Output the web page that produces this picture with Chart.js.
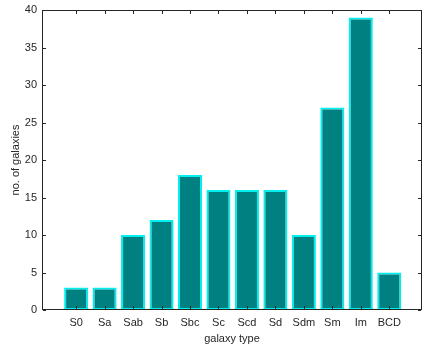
<!DOCTYPE html>
<html><head><meta charset="utf-8">
<script src="https://cdn.jsdelivr.net/npm/chart.js@4"></script>
<style>html,body{margin:0;padding:0;background:#fff}#c{display:block}</style>
</head><body>
<canvas id="c" width="424" height="351"></canvas>
<script>
const categories = ['S0','Sa','Sab','Sb','Sbc','Sc','Scd','Sd','Sdm','Sm','Im','BCD'];
const counts = [3,3,10,12,18,16,16,16,10,27,39,5];
const yTicks = [0,5,10,15,20,25,30,35,40];

const FONT = "'Liberation Sans', Arial, sans-serif";
const INK = '#262626';

const framePlugin = {
  id: 'frame',
  afterDraw(chart) {
    const {ctx, chartArea: a, scales} = chart;
    ctx.save();
    ctx.fillStyle = INK;
    const L = Math.round(a.left), R = Math.round(a.right) - 1;
    const T = Math.round(a.top), B = Math.round(a.bottom) - 1;
    ctx.fillRect(L, T, R - L + 1, 1);
    ctx.fillRect(L, B, R - L + 1, 1);
    ctx.fillRect(L, T, 1, B - T + 1);
    ctx.fillRect(R, T, 1, B - T + 1);
    const tl = 3;
    for (let i = 0; i < categories.length; i++) {
      const x = Math.round(scales.x.getPixelForValue(i));
      ctx.fillRect(x, B - tl, 1, tl);
      ctx.fillRect(x, T + 1, 1, tl);
    }
    for (const v of yTicks) {
      const y = Math.round(scales.y.getPixelForValue(v));
      ctx.fillRect(L + 1, y, tl, 1);
      ctx.fillRect(R - tl, y, tl, 1);
    }
    ctx.restore();
  }
};

new Chart(document.getElementById('c'), {
  type: 'bar',
  data: {
    datasets: [{
      data: counts.map((v, i) => ({x: i, y: v})),
      backgroundColor: '#008080',
      borderColor: '#00f0f0',
      borderWidth: 2,
      borderSkipped: false,
      barPercentage: 0.845,
      categoryPercentage: 1
    }]
  },
  options: {
    responsive: false,
    animation: false,
    events: [],
    layout: {padding: {top: 10, right: 2, left: 0, bottom: 0}},
    plugins: {legend: {display: false}, tooltip: {enabled: false}},
    scales: {
      x: {
        type: 'linear',
        min: -1.2, max: 12.15,
        offset: false,
        grid: {display: false, drawTicks: false},
        border: {display: false},
        afterBuildTicks(s) { s.ticks = categories.map((c, i) => ({value: i})); },
        afterFit(s) { s.height = 41; s.paddingLeft = 0; s.paddingRight = 0; },
        ticks: {
          autoSkip: false, maxRotation: 0, padding: 6,
          color: INK, font: {family: FONT, size: 11},
          callback: (v) => categories[v] ?? ''
        },
        title: {display: true, text: 'galaxy type', color: INK,
          font: {family: FONT, size: 11}, padding: {top: 0, bottom: 5}}
      },
      y: {
        min: 0, max: 40,
        grid: {display: false, drawTicks: false},
        border: {display: false},
        afterBuildTicks(s) { s.ticks = yTicks.map(v => ({value: v})); },
        afterFit(s) { s.width = 42; s.paddingTop = 0; s.paddingBottom = 0; },
        ticks: {padding: 5, color: INK, font: {family: FONT, size: 11}},
        title: {display: true, text: 'no. of galaxies', color: INK,
          font: {family: FONT, size: 11}, padding: {top: 9, bottom: 0}}
      }
    }
  },
  plugins: [framePlugin]
});
</script>
</body></html>
